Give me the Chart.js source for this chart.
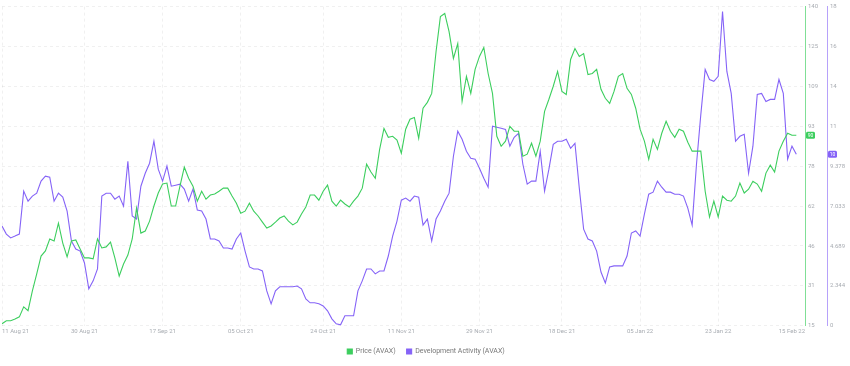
<!DOCTYPE html>
<html>
<head>
<meta charset="utf-8">
<script src="https://cdn.jsdelivr.net/npm/chart.js@4.4.1/dist/chart.umd.min.js"></script>
<style>
  html, body { margin: 0; padding: 0; background: #fff; }
  #wrap { width: 850px; height: 366px; }
</style>
</head>
<body>
<div id="wrap"><canvas id="chart"></canvas></div>
<script>
// daily values, 11 Aug 21 -> 10 Feb 22
const price = [
  15.8, 17.0, 17.0, 17.7, 18.5, 22.4, 20.9, 28.7, 35.3, 42.3,
  44.3, 49.0, 48.2, 55.2, 47.4, 42.0, 48.2, 48.6, 45.1, 41.6,
  41.6, 41.2, 49.0, 45.5, 45.9, 47.8, 41.6, 34.5, 39.2, 42.7,
  49.0, 61.1, 51.3, 52.1, 56.0, 61.9, 67.0, 70.5, 70.9, 61.9,
  61.9, 69.7, 77.1, 72.8, 69.7, 63.8, 67.7, 64.6, 66.2, 66.6,
  67.7, 68.9, 68.9, 65.8, 63.0, 59.1, 59.9, 63.0, 59.9, 58.0,
  55.6, 53.3, 54.1, 55.6, 57.2, 58.0, 56.0, 54.5, 55.6, 58.8,
  61.5, 66.2, 66.2, 64.2, 67.7, 70.1, 63.8, 61.9, 64.2, 62.7,
  61.5, 63.8, 65.8, 68.9, 78.3, 75.2, 72.8, 84.1, 92.3, 88.8,
  89.2, 87.7, 82.6, 92.0, 95.9, 96.6, 88.4, 100.2, 102.5, 106.0,
  122.4, 136.1, 137.3, 130.2, 119.7, 125.5, 102.9, 112.7, 106.0, 115.4,
  120.5, 124.0, 113.8, 106.0, 89.2, 85.3, 87.3, 93.1, 91.2, 91.2,
  81.4, 82.2, 86.5, 81.4, 87.3, 99.0, 103.7, 108.8, 114.6, 106.8,
  105.6, 119.3, 123.6, 120.5, 121.6, 113.4, 113.8, 115.4, 107.6, 104.1,
  102.1, 106.8, 112.7, 113.8, 108.0, 105.6, 100.2, 92.0, 87.3, 80.2,
  88.0, 84.1, 90.4, 95.1, 91.2, 88.8, 92.0, 91.2, 86.9, 83.4,
  83.4, 83.4, 67.7, 57.6, 63.8, 57.6, 65.8, 64.2, 63.8, 65.8,
  70.9, 67.0, 68.5, 71.6, 70.5, 67.7, 74.8, 77.9, 75.2, 83.4,
  87.3, 90.4, 89.6, 89.6
];
const devActivity = [
  5.86, 5.39, 5.16, 5.27, 5.39, 7.91, 7.32, 7.62, 7.79, 8.50,
  8.79, 8.73, 7.32, 7.79, 7.56, 6.74, 4.98, 4.51, 4.39, 3.69,
  2.17, 2.64, 3.34, 7.62, 7.79, 7.79, 7.44, 7.62, 7.03, 9.67,
  6.45, 6.27, 8.20, 8.96, 9.55, 10.84, 9.20, 8.50, 9.38, 8.20,
  8.26, 8.32, 8.03, 7.32, 8.03, 6.80, 6.74, 6.27, 5.10, 5.10,
  4.98, 4.57, 4.57, 4.51, 5.10, 5.45, 4.39, 3.46, 3.34, 3.34,
  3.22, 2.05, 1.29, 2.05, 2.29, 2.29, 2.29, 2.29, 2.34, 2.17,
  1.58, 1.35, 1.35, 1.29, 1.17, 0.88, 0.41, 0.12, 0.06, 0.59,
  0.59, 0.59, 2.05, 2.64, 3.34, 3.34, 3.05, 3.22, 3.22, 4.10,
  5.27, 6.15, 7.38, 7.50, 7.32, 7.62, 7.56, 5.92, 6.27, 4.98,
  6.27, 6.74, 7.32, 7.79, 9.96, 11.43, 10.96, 10.25, 9.84, 9.79,
  9.26, 8.67, 8.14, 11.72, 11.66, 11.60, 11.54, 10.55, 11.07, 11.31,
  9.49, 8.32, 8.50, 8.50, 10.25, 7.91, 9.20, 10.66, 10.84, 10.84,
  10.96, 10.43, 10.72, 8.09, 5.68, 5.10, 4.98, 4.39, 3.16, 2.52,
  3.46, 3.52, 3.52, 3.52, 4.10, 5.45, 5.57, 5.27, 6.56, 7.73,
  7.85, 8.50, 8.14, 7.85, 7.85, 7.73, 7.73, 7.62, 6.91, 5.92,
  9.49, 12.42, 15.06, 14.47, 14.36, 14.65, 18.46, 14.94, 13.65, 10.84,
  11.13, 11.25, 8.96, 10.55, 13.59, 13.65, 13.18, 13.30, 13.30, 14.47,
  13.65, 9.79, 10.55, 10.08
];

// x ticks (day index from 11 Aug 21)
const xTickDays = [0, 19, 37, 55, 74, 92, 110, 129, 147, 165, 185];
const xTickLabels = ['11 Aug 21', '30 Aug 21', '17 Sep 21', '05 Oct 21', '24 Oct 21',
  '11 Nov 21', '29 Nov 21', '18 Dec 21', '05 Jan 22', '23 Jan 22', '15 Feb 22'];

const priceTicks = [15, 30.625, 46.25, 61.875, 77.5, 93.125, 108.75, 124.375, 140];
const priceTickLabels = ['15', '31', '46', '62', '78', '93', '109', '125', '140'];
const devTicks = [0, 2.34375, 4.6875, 7.03125, 9.375, 11.71875, 14.0625, 16.40625, 18.75];
const devTickLabels = ['0', '2.344', '4.689', '7.033', '9.378', '11', '14', '16', '18'];

const GREEN = '#3cce5e';
const PURPLE = '#8563f7';
const GRID = 'rgba(0,0,0,0.06)';
const TICK_COLOR = '#a8acb2';

const toPoints = arr => arr.map((v, i) => ({ x: i, y: v }));

// small value badges on the right axes
const lastValueBadges = {
  id: 'lastValueBadges',
  afterDraw(chart) {
    const ctx = chart.ctx;
    chart.data.datasets.forEach(ds => {
      const scale = chart.scales[ds.yAxisID];
      const last = ds.data[ds.data.length - 1].y;
      const y = scale.getPixelForValue(last);
      const x = scale.left + 1;
      const w = 9, h = 7;
      ctx.save();
      ctx.fillStyle = ds.borderColor;
      ctx.beginPath();
      ctx.roundRect(x, y - h / 2, w, h, 1.5);
      ctx.fill();
      ctx.fillStyle = '#fff';
      ctx.font = '5px Roboto';
      ctx.textAlign = 'center';
      ctx.textBaseline = 'middle';
      ctx.fillText(String(Math.round(last)), x + w / 2, y + 0.5);
      ctx.restore();
    });
  }
};

new Chart(document.getElementById('chart'), {
  type: 'line',
  data: {
    datasets: [
      {
        label: 'Price (AVAX)',
        data: toPoints(price),
        borderColor: GREEN,
        backgroundColor: GREEN,
        borderWidth: 1.1,
        pointRadius: 0,
        tension: 0,
        yAxisID: 'y'
      },
      {
        label: 'Development Activity (AVAX)',
        data: toPoints(devActivity),
        borderColor: PURPLE,
        backgroundColor: PURPLE,
        borderWidth: 1.1,
        pointRadius: 0,
        tension: 0,
        yAxisID: 'y1'
      }
    ]
  },
  options: {
    responsive: true,
    maintainAspectRatio: false,
    animation: false,
    layout: { padding: { left: 2, right: 0, top: 4, bottom: 1 } },
    plugins: {
      legend: {
        position: 'bottom',
        labels: {
          boxWidth: 5,
          boxHeight: 5,
          padding: 11,
          color: '#777',
          font: { family: 'Roboto', size: 7 }
        }
      },
      tooltip: { enabled: false }
    },
    scales: {
      x: {
        type: 'linear',
        min: 0,
        max: 185,
        afterBuildTicks: s => { s.ticks = xTickDays.map(v => ({ value: v })); },
        ticks: {
          autoSkip: false,
          maxRotation: 0,
          align: 'inner',
          padding: 2,
          color: TICK_COLOR,
          font: { family: 'Roboto', size: 6 },
          callback: (v, i) => xTickLabels[i]
        },
        grid: {
          color: c => (c.index === xTickDays.length - 1 ? 'rgba(0,0,0,0)' : GRID),
          drawTicks: false
        },
        border: { display: false, dash: [3, 3] }
      },
      y: {
        position: 'right',
        min: 15,
        max: 140,
        afterBuildTicks: s => { s.ticks = priceTicks.map(v => ({ value: v })); },
        afterFit: s => { s.width = 22; },
        ticks: {
          autoSkip: false,
          padding: 3,
          color: TICK_COLOR,
          font: { family: 'Roboto', size: 6 },
          callback: (v, i) => priceTickLabels[i]
        },
        grid: { color: GRID, drawTicks: false },
        border: { display: true, color: 'rgba(60,206,94,0.65)', width: 1, dash: [3, 3] }
      },
      y1: {
        position: 'right',
        min: 0,
        max: 18.75,
        afterBuildTicks: s => { s.ticks = devTicks.map(v => ({ value: v })); },
        afterFit: s => { s.width = 23; },
        ticks: {
          autoSkip: false,
          padding: 3,
          color: TICK_COLOR,
          font: { family: 'Roboto', size: 6 },
          callback: (v, i) => devTickLabels[i]
        },
        grid: { display: false, drawTicks: false },
        border: { display: true, color: 'rgba(133,99,247,0.6)', width: 1 }
      }
    }
  },
  plugins: [lastValueBadges]
});
</script>
</body>
</html>
